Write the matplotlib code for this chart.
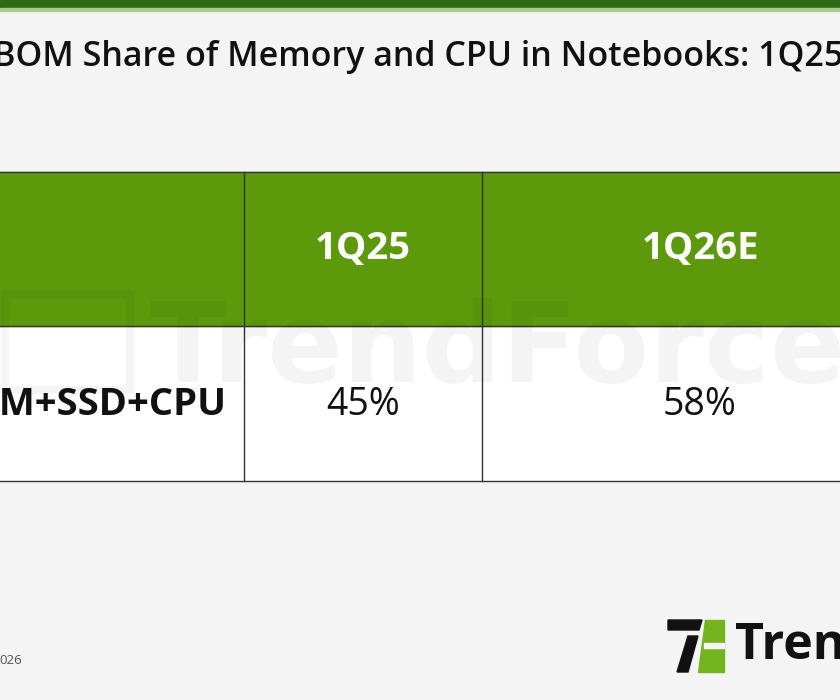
import matplotlib.pyplot as plt
from matplotlib.patches import Rectangle, Polygon

title = "Notebook BOM Share of Memory and CPU in Notebooks: 1Q25 vs 1Q26E"
columns = ["1Q25", "1Q26E"]
row_labels = ["DRAM+SSD+CPU"]
shares = [45, 58]
source = "Source: TrendForce, Jan. 2026"

fig = plt.figure(figsize=(8.4, 7), dpi=100)
fig.patch.set_facecolor("#f4f4f4")
ax = fig.add_axes([0, 0, 1, 1])
ax.set_xlim(0, 840)
ax.set_ylim(700, 0)
ax.axis("off")

# top band
ax.add_patch(Rectangle((0, 0), 840, 8, color="#2f6a15"))
ax.add_patch(Rectangle((0, 8), 840, 3, color="#a9c98f"))

ax.text(-7, 57, title[9:], fontsize=24.5, fontweight="semibold", va="center",
        ha="left", family="Open Sans", color="#111")

# table
col_x = [-200, 244, 482, 920]
y_head, y_row, y_end = 172, 326, 481
ax.add_patch(Rectangle((-10, y_head), 860, y_row - y_head, color="#5c9a0c"))
ax.add_patch(Rectangle((-10, y_row), 860, y_end - y_row, color="#ffffff", zorder=0))

# watermark
ax.text(150, 352, "TrendForce", fontsize=80, fontweight="bold", color="#000",
        alpha=0.045, va="center", ha="left", family="DejaVu Sans")
ax.add_patch(Rectangle((5, 295), 125, 95, fill=False, ec="#000", alpha=0.04, lw=6))

for x in col_x[1:3]:
    ax.plot([x, x], [y_head, y_end], color="#333", lw=1)
for y in (y_head, y_row, y_end):
    ax.plot([-10, 850], [y, y], color="#333", lw=1)

centers = [363, 700]
for i, c in enumerate(columns):
    ax.text(centers[i], 249, c, color="white", fontsize=27.5, fontweight="bold",
            ha="center", va="center", family="Open Sans")
    ax.text(centers[i], 405, f"{shares[i]}%", color="#111", fontsize=27,
            ha="center", va="center", family="Open Sans")
ax.text(227, 405, row_labels[0], color="#111", fontsize=27.5, fontweight="bold",
        ha="right", va="center", family="Open Sans")

# footer
ax.text(22, 660, source[-4:][1:], fontsize=9.5, color="#555", ha="right",
        va="center", family="Open Sans")
ax.add_patch(Polygon([[668, 620], [702, 620], [699, 630], [668, 630]], color="#111"))
ax.add_patch(Polygon([[688, 636], [698, 636], [688, 672], [677, 672]], color="#111"))
ax.add_patch(Polygon([[705, 620], [724, 620], [724, 672], [698, 672]], color="#74b41f"))
ax.add_patch(Rectangle((704, 643), 20, 5, color="#f4f4f4"))
ax.text(735, 646, "TrendForce", fontsize=36, fontweight="bold", color="#111",
        ha="left", va="center", family="Open Sans")

fig.savefig("out.png", dpi=100, facecolor=fig.get_facecolor())
